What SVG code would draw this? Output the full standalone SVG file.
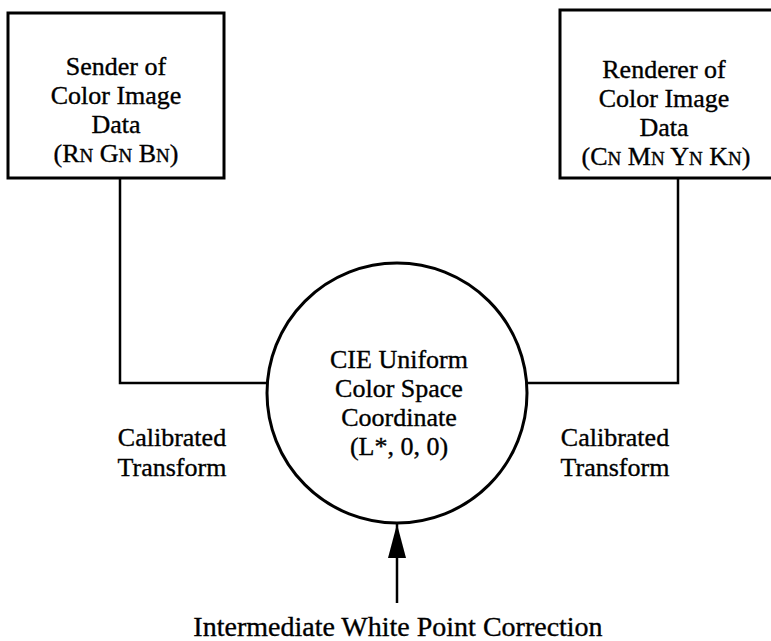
<svg xmlns="http://www.w3.org/2000/svg" width="771" height="641" viewBox="0 0 771 641">
<style>
  text { font-family: "Liberation Serif", "Times New Roman", serif; font-size: 26px; fill: #000; stroke: #000; stroke-width: 0.35; text-anchor: middle; }
  .big { font-size: 28px; }
  .sc { font-size: 19px; }
  .box { fill: #fff; stroke: #000; stroke-width: 3; }
  .conn { fill: none; stroke: #000; stroke-width: 2.5; }
</style>
<defs>
  <marker id="arrow" markerUnits="userSpaceOnUse" markerWidth="34" markerHeight="18" refX="34" refY="9" orient="auto" viewBox="0 0 34 18">
    <path d="M0,0 L34,9 L0,18 Z" fill="#000"/>
  </marker>
</defs>
<rect width="771" height="641" fill="#fff"/>
<g id="connectors">
  <path class="conn" d="M120,178 V383 H267"/>
  <path class="conn" d="M527,383 H678 V178"/>
  <line class="conn" x1="397" y1="603" x2="397" y2="524" marker-end="url(#arrow)"/>
</g>
<g id="sender">
  <rect class="box" x="8" y="13" width="216" height="165"/>
  <text x="116" y="75">Sender of</text>
  <text x="116" y="104">Color Image</text>
  <text x="116" y="133">Data</text>
  <text x="116" y="162">(R<tspan class="sc">N</tspan> G<tspan class="sc">N</tspan> B<tspan class="sc">N</tspan>)</text>
</g>
<g id="renderer">
  <rect class="box" x="560" y="10" width="230" height="168"/>
  <text x="664" y="78">Renderer of</text>
  <text x="664" y="107">Color Image</text>
  <text x="664" y="136">Data</text>
  <text x="666" y="165">(C<tspan class="sc">N</tspan> M<tspan class="sc">N</tspan> Y<tspan class="sc">N</tspan> K<tspan class="sc">N</tspan>)</text>
</g>
<g id="cie">
  <circle class="box" cx="397" cy="393" r="130"/>
  <text x="399" y="368">CIE Uniform</text>
  <text x="399" y="397">Color Space</text>
  <text x="399" y="426">Coordinate</text>
  <text x="399" y="455">(L*, 0, 0)</text>
</g>
<g id="label-left">
  <text x="172" y="446">Calibrated</text>
  <text x="172" y="476">Transform</text>
</g>
<g id="label-right">
  <text x="615" y="446">Calibrated</text>
  <text x="615" y="476">Transform</text>
</g>
<g id="label-bottom">
  <text class="big" x="398" y="636">Intermediate White Point Correction</text>
</g>
</svg>
